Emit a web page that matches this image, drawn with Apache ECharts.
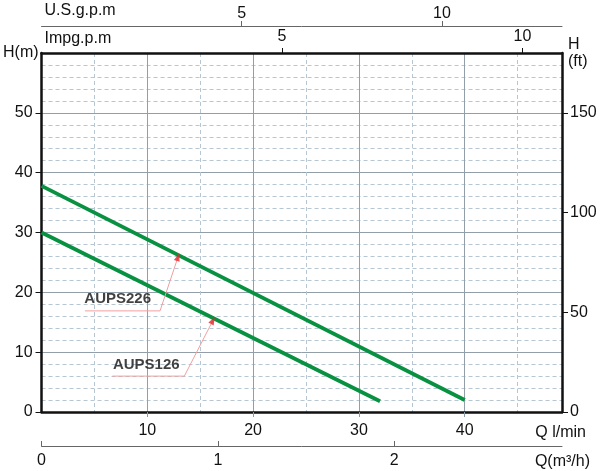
<!DOCTYPE html>
<html>
<head>
<meta charset="utf-8">
<script src="https://cdn.jsdelivr.net/npm/echarts@6/dist/echarts.min.js"></script>
<style>html,body{margin:0;padding:0;background:#fff}#c{width:600px;height:471px}</style>
</head>
<body>
<div id="c"></div>
<script>
// ---- data (flow Q in l/min, head H in m) ----
const q226 = [0, 40];
const h226 = [37.8, 2.0];
const q126 = [0, 32];
const h126 = [30.0, 1.8];
const modelNames = ['AUPS226', 'AUPS126'];
// annotation anchors in data units [Q l/min, H m]
const labelPos = [[7.2, 18.9], [9.9, 7.9]];
const leaderPaths = [
  [[4.1, 16.9], [11.2, 16.9], [12.9, 25.9]],
  [[6.7, 6.0], [13.5, 6.0], [16.2, 15.3]]
];
const arrowAngles = [-18.4, -27.8];
// axis settings
const qMax = 49.2;           // l/min at right edge
const hMax = 60;             // m at top edge
const ftTicks = [0, 50, 100, 150];
// unit conversions
const L_PER_IMPG = 4.546, L_PER_USG = 3.785, L_PER_M3H = 1000 / 60;

const chart = echarts.init(document.getElementById('c'));
const FONT = 'Liberation Sans, Arial, sans-serif';
const txt = { color: '#111', fontSize: 16, fontFamily: FONT };
const solidGrid = { color: '#939fa8', width: 1 };
const dashGrid = { color: '#b6c6d3', width: 1, type: [4, 3] };

function pairs(qs, hs) { return qs.map((q, i) => [q, hs[i]]); }

const series = [
  { name: modelNames[0], type: 'line', data: pairs(q226, h226), symbol: 'none',
    lineStyle: { color: '#089140', width: 3.8 }, z: 5 },
  { name: modelNames[1], type: 'line', data: pairs(q126, h126), symbol: 'none',
    lineStyle: { color: '#089140', width: 3.8 }, z: 5 }
];
leaderPaths.forEach((p, i) => {
  series.push({ type: 'line', data: p, symbol: 'none', silent: true,
    lineStyle: { color: '#f0a0a0', width: 1 }, z: 6 });
  series.push({ type: 'scatter', data: [p[p.length - 1]], symbol: 'triangle',
    symbolSize: [6, 8], symbolRotate: arrowAngles[i],
    itemStyle: { color: '#e8232b' }, z: 7, silent: true });
});
series.push({ type: 'scatter', data: labelPos.map((p, i) => ({ value: p, name: modelNames[i] })),
  symbolSize: 0, z: 8, silent: true,
  label: { show: true, position: 'inside', formatter: '{b}', color: '#111',
    fontSize: 15, fontWeight: 'bold', fontFamily: FONT } });

chart.setOption({
  animation: false,
  grid: { left: 41, right: 38, top: 53, bottom: 59, containLabel: false },
  xAxis: [
    { type: 'value', position: 'bottom', min: 0, max: qMax, interval: 10,
      axisLine: { onZero: false, lineStyle: { color: '#111', width: 2.5 } },
      axisTick: { show: true, length: 5, lineStyle: { color: '#8a98a2' } },
      axisLabel: Object.assign({ margin: 11, showMinLabel: false, showMaxLabel: false }, txt),
      splitLine: { show: true, lineStyle: solidGrid },
      minorTick: { show: false, splitNumber: 2 },
      minorSplitLine: { show: true, lineStyle: dashGrid },
      name: 'Q l/min', nameLocation: 'end', nameGap: 24,
      nameTextStyle: Object.assign({ align: 'right', verticalAlign: 'top', padding: [13, 0, 0, 0] }, txt) },
    { type: 'value', position: 'top', min: 0, max: qMax / L_PER_IMPG, interval: 5,
      axisLine: { onZero: false, lineStyle: { color: '#111', width: 2.5 } },
      axisTick: { show: true, length: 5, lineStyle: { color: '#111' } },
      axisLabel: Object.assign({ margin: 8, showMinLabel: false, showMaxLabel: false }, txt),
      splitLine: { show: false },
      name: 'Impg.p.m', nameLocation: 'start', nameGap: -3,
      nameTextStyle: Object.assign({ align: 'left', verticalAlign: 'bottom', padding: [0, 0, 6, 0] }, txt) },
    { type: 'value', position: 'top', offset: 27, min: 0, max: qMax / L_PER_USG, interval: 5,
      axisLine: { onZero: false, lineStyle: { color: '#666', width: 1 } },
      axisTick: { show: true, length: 5, lineStyle: { color: '#666' } },
      axisLabel: Object.assign({ margin: 4, showMinLabel: false, showMaxLabel: false }, txt),
      splitLine: { show: false },
      name: 'U.S.g.p.m', nameLocation: 'start', nameGap: -3,
      nameTextStyle: Object.assign({ align: 'left', verticalAlign: 'bottom', padding: [0, 0, 7, 0] }, txt) },
    { type: 'value', position: 'bottom', offset: 34, min: 0, max: qMax / L_PER_M3H, interval: 1,
      axisLine: { onZero: false, lineStyle: { color: '#666', width: 1 } },
      axisTick: { show: true, inside: true, length: 5, lineStyle: { color: '#666' } },
      axisLabel: Object.assign({ margin: 7, showMaxLabel: false }, txt),
      splitLine: { show: false },
      name: 'Q(m³/h)', nameLocation: 'end', nameGap: 28,
      nameTextStyle: Object.assign({ align: 'right', verticalAlign: 'top', padding: [8, 0, 0, 0] }, txt) }
  ],
  yAxis: [
    { type: 'value', position: 'left', min: 0, max: hMax, interval: 10,
      axisLine: { show: true, onZero: false, lineStyle: { color: '#111', width: 2.5 } },
      axisTick: { show: true, length: 6, lineStyle: { color: '#111' } },
      axisLabel: Object.assign({ margin: 9, showMaxLabel: false }, txt),
      splitLine: { show: true, lineStyle: solidGrid },
      minorTick: { show: false, splitNumber: 5 },
      minorSplitLine: { show: true, lineStyle: dashGrid },
      name: 'H(m)', nameLocation: 'end', nameGap: 0,
      nameTextStyle: Object.assign({ align: 'right', verticalAlign: 'middle', padding: [0, 3, 0, 0] }, txt) },
    { type: 'value', position: 'right', min: 0, max: hMax * 3, interval: 50,
      axisLine: { show: true, onZero: false, lineStyle: { color: '#111', width: 2.5 } },
      axisTick: { show: true, length: 6, lineStyle: { color: '#111' } },
      axisLabel: Object.assign({ margin: 8, showMaxLabel: false,
        formatter: v => ftTicks.includes(v) ? String(v) : '' }, txt),
      splitLine: { show: false },
      name: 'H\n(ft)', nameLocation: 'end', nameGap: 0,
      nameTextStyle: Object.assign({ align: 'left', verticalAlign: 'middle', lineHeight: 17, padding: [0, 0, 0, 6] }, txt) }
  ],
  series: series
});
</script>
</body>
</html>
